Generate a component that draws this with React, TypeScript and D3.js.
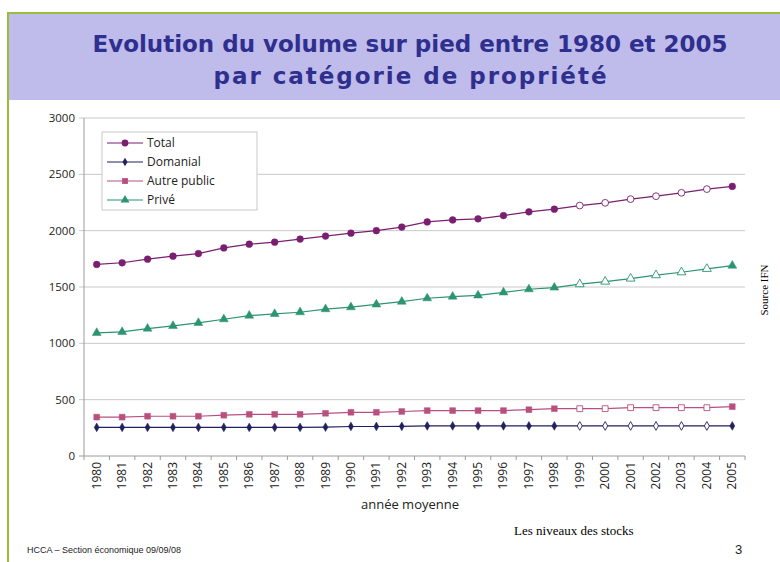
import React from 'react';
import { scaleBand, scaleLinear, line, symbol, symbolCircle, symbolDiamond, symbolSquare, symbolTriangle } from 'd3';

// Years on the x axis
const years = [
  '1980', '1981', '1982', '1983', '1984', '1985', '1986', '1987', '1988',
  '1989', '1990', '1991', '1992', '1993', '1994', '1995', '1996', '1997',
  '1998', '1999', '2000', '2001', '2002', '2003', '2004', '2005',
];
// Series values
const total = [1700, 1715, 1747, 1774, 1797, 1847, 1880, 1898, 1925, 1952, 1978, 2000, 2032, 2078, 2095, 2105, 2134, 2167, 2191, 2223, 2247, 2280, 2306, 2336, 2369, 2393];
const domanial = [254, 254, 254, 254, 254, 254, 254, 254, 254, 256, 262, 262, 263, 267, 267, 267, 267, 267, 267, 267, 267, 267, 267, 267, 267, 267];
const autrePublic = [345, 345, 353, 353, 353, 362, 370, 370, 370, 379, 388, 388, 395, 403, 403, 403, 403, 411, 420, 420, 420, 429, 429, 429, 429, 438];
const prive = [1093, 1101, 1131, 1155, 1181, 1214, 1246, 1261, 1276, 1303, 1321, 1345, 1370, 1400, 1415, 1425, 1452, 1480, 1495, 1525, 1548, 1575, 1605, 1631, 1661, 1690];
const yTicks = [0, 500, 1000, 1500, 2000, 2500, 3000];
// estimated years drawn with open markers
const estimatedYears = ['1999', '2000', '2001', '2002', '2003', '2004'];

const seriesList = [
  { name: 'Total', values: total, color: '#7a1f70', shape: symbolCircle, size: 36 },
  { name: 'Domanial', values: domanial, color: '#20215e', shape: symbolDiamond, size: 22 },
  { name: 'Autre public', values: autrePublic, color: '#b8507f', shape: symbolSquare, size: 34 },
  { name: 'Privé', values: prive, color: '#2c9470', shape: symbolTriangle, size: 34 },
];

const W = 780;
const H = 562;
const plot = { left: 84, right: 745, top: 118, bottom: 456 };

const App = () => {
  const x = scaleBand().domain(years).range([plot.left, plot.right]);
  const y = scaleLinear().domain([0, 3000]).range([plot.bottom, plot.top]);
  const cx = (yr: string) => (x(yr) as number) + x.bandwidth() / 2;

  const axisFont = 'Open Sans, Noto Sans, sans-serif';

  return (
    <svg width={W} height={H} style={{ position: 'absolute', left: 0, top: 0 }} fontFamily={axisFont}>
      <rect width={W} height={H} fill='#ffffff' />
      {/* slide frame */}
      <rect x={7} y={12} width={W - 7} height={2} fill='#9cbd3a' />
      <rect x={7} y={12} width={2} height={H - 12} fill='#9cbd3a' />
      <rect x={9} y={14} width={W - 9} height={86} fill='#bfbbea' />
      <text x={410} y={52} textAnchor='middle' fontFamily='DejaVu Sans, sans-serif' fontWeight='bold' fontSize={23}
        fill='#2e2f8e' textLength={635} lengthAdjust='spacingAndGlyphs'>
        Evolution du volume sur pied entre 1980 et 2005
      </text>
      <text x={410} y={84} textAnchor='middle' fontFamily='DejaVu Sans, sans-serif' fontWeight='bold' fontSize={23}
        fill='#2e2f8e' textLength={393} lengthAdjust='spacing'>
        par catégorie de propriété
      </text>

      {/* gridlines + y labels */}
      {yTicks.map((t) => (
        <g key={t}>
          <line x1={plot.left - 5} x2={plot.right} y1={y(t)} y2={y(t)} stroke={t === 0 ? '#9a9a9a' : '#c9c9c9'} strokeWidth={1} />
          <text x={75} y={y(t) + 4} textAnchor='end' fontSize={11.5} fill='#222'>{t}</text>
        </g>
      ))}
      <line x1={plot.left} x2={plot.left} y1={plot.top} y2={plot.bottom} stroke='#9a9a9a' />

      {/* x ticks + labels */}
      {years.map((yr, i) => (
        <g key={yr}>
          <line x1={(x(yr) as number)} x2={(x(yr) as number)} y1={plot.bottom} y2={plot.bottom + 4} stroke='#9a9a9a' />
          {i === years.length - 1 && (
            <line x1={plot.right} x2={plot.right} y1={plot.bottom} y2={plot.bottom + 4} stroke='#9a9a9a' />
          )}
          <text transform={`translate(${cx(yr) + 4},${plot.bottom + 6}) rotate(-90)`} textAnchor='end' fontSize={12} fill='#222'>{yr}</text>
        </g>
      ))}
      <text x={410} y={509} textAnchor='middle' fontSize={13} fill='#222'>année moyenne</text>

      {/* series */}
      {seriesList.map((s) => {
        const pathGen = line<number>()
          .x((_, i) => cx(years[i]))
          .y((v) => y(v));
        const sym = symbol().type(s.shape).size(s.size);
        return (
          <g key={s.name}>
            <path d={pathGen(s.values) || ''} fill='none' stroke={s.color} strokeWidth={1.2} />
            {s.values.map((v, i) => {
              const open = estimatedYears.includes(years[i]);
              return (
                <path key={i} d={sym() || ''} transform={`translate(${cx(years[i])},${y(v)})`}
                  fill={open ? '#ffffff' : s.color} stroke={s.color} strokeWidth={open ? 0.9 : 0.5} />
              );
            })}
          </g>
        );
      })}

      {/* legend */}
      <rect x={102} y={132} width={155} height={78} fill='#ffffff' stroke='#c9c9c9' />
      {seriesList.map((s, i) => {
        const ly = 143 + i * 19;
        const sym = symbol().type(s.shape).size(s.size);
        return (
          <g key={s.name}>
            <line x1={107} x2={143} y1={ly} y2={ly} stroke={s.color} strokeWidth={1.2} />
            <path d={sym() || ''} transform={`translate(125,${ly})`} fill={s.color} />
            <text x={147} y={ly + 4} fontSize={12} fill='#222'>{s.name}</text>
          </g>
        );
      })}

      {/* side and footer texts */}
      <text transform='translate(768,290) rotate(-90)' textAnchor='middle' fontFamily='Liberation Serif, serif' fontSize={11} fill='#000'>Source IFN</text>
      <text x={514} y={535} fontFamily='Liberation Serif, serif' fontSize={13} fill='#000'>Les niveaux des stocks</text>
      <text x={27} y={553} fontFamily='Liberation Sans, Arial, sans-serif' fontSize={9} fill='#222'>HCCA – Section économique 09/09/08</text>
      <text x={735} y={554} fontFamily='Liberation Sans, Arial, sans-serif' fontSize={13} fill='#222'>3</text>
    </svg>
  );
};

export default App;
